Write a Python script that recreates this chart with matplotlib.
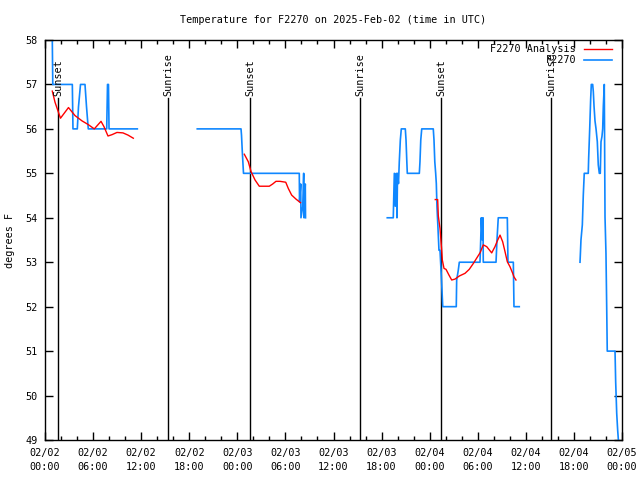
import matplotlib
matplotlib.use("Agg")
import matplotlib.pyplot as plt
import numpy as np

plt.rcParams['font.family'] = ['DejaVu Sans Mono']
fs = 7.3

# hours since 2025-02-02 00:00 UTC, nan = gap in data
obs_hours = [0.91, 0.94, 0.97, 3.41, 3.49, 4.03, 4.18, 4.43, 4.99, 5.18, 5.40, 7.70, 7.80, 7.92, 7.99, 11.52,
             np.nan,
             19.00, 24.46, 24.52, 24.62, 24.71, 24.77, 31.73, 31.76, 31.91, 31.94, 32.16, 32.28, 32.32, 32.48, 32.51,
             np.nan,
             42.71, 43.46, 43.49, 43.59, 43.71, 43.84, 43.92, 43.99, 44.11, 44.21, 44.34, 44.46, 44.96, 45.05,
             45.15, 45.21, 46.71, 46.79, 46.89, 47.01, 48.45, 48.54, 48.64, 48.75, 48.83, 48.91, 49.04, 49.16,
             49.29, 49.48, 49.63, 51.32, 51.37, 51.57, 51.70, 54.28, 54.37, 54.44, 54.57, 54.65, 54.69, 56.28,
             56.40, 56.56, 57.69, 57.77, 58.44, 58.52, 59.18,
             np.nan,
             66.76, 66.80, 66.88, 67.05, 67.17, 67.29, 67.79, 67.84, 67.97, 68.09, 68.17, 68.34, 68.42, 68.51,
             68.63, 68.76, 68.92, 69.04, 69.17, 69.29, 69.38, 69.50, 69.59, 69.67, 69.79, 69.88, 70.00, 70.09,
             70.16, 71.13, 71.21, 71.34, 71.46, 71.59, 71.87]
obs_temp = [58.0, 57.5, 57.0, 57.0, 56.0, 56.0, 56.5, 57.0, 57.0, 56.5, 56.0, 56.0, 57.0, 57.0, 56.0, 56.0,
            np.nan,
            56.0, 56.0, 55.86, 55.49, 55.19, 55.0, 55.0, 54.36, 54.76, 54.0, 54.25, 55.0, 54.0, 54.76, 54.0,
            np.nan,
            54.0, 54.0, 54.26, 55.0, 54.26, 55.0, 54.0, 55.0, 54.77, 55.26, 55.75, 56.0, 56.0, 55.75,
            55.26, 55.0, 55.0, 55.26, 55.75, 56.0, 56.0, 55.75, 55.26, 55.0, 54.77, 54.25, 53.76, 53.27,
            53.27, 52.6, 52.0, 52.0, 52.6, 52.82, 53.0, 53.0, 53.5, 54.0, 53.5, 54.0, 53.0, 53.0,
            53.5, 54.0, 54.0, 53.0, 53.0, 52.0, 52.0,
            np.nan,
            53.0, 53.16, 53.5, 53.84, 54.51, 55.0, 55.0, 55.34, 56.0, 56.67, 57.0, 57.0, 56.84, 56.51,
            56.18, 56.0, 55.71, 55.19, 55.0, 55.0, 55.71, 55.83, 56.0, 56.51, 57.0, 54.02, 53.2, 52.0,
            51.0, 51.0, 50.31, 49.6, 49.22, 48.9, 48.8]

ana_hours = [0.91, 1.25, 1.93, 2.93, 3.74, 4.62, 5.37, 6.15, 6.99, 7.36, 7.86, 8.36, 8.98, 9.73, 10.36, 11.02,
             np.nan,
             24.87, 25.37, 25.71, 26.21, 26.74, 27.99, 28.41, 28.82, 29.32, 30.04, 30.36, 30.78, 31.32, 31.88,
             np.nan,
             48.70, 49.00, 49.08, 49.29, 49.50, 49.58, 49.79, 50.04, 50.41, 50.75, 51.16, 51.70, 52.41, 52.94,
             53.44, 53.86, 54.28, 54.69, 55.12, 55.74, 56.15, 56.44, 56.78, 57.11, 57.40, 57.69, 58.02, 58.36,
             58.52, 58.77]
ana_temp = [56.85, 56.6, 56.24, 56.48, 56.3, 56.18, 56.1, 56.0, 56.17, 56.05, 55.84, 55.87, 55.92, 55.91, 55.86, 55.79,
            np.nan,
            55.43, 55.26, 55.04, 54.85, 54.71, 54.71, 54.76, 54.82, 54.82, 54.8, 54.66, 54.51, 54.42, 54.34,
            np.nan,
            54.41, 54.41, 54.04, 53.76, 53.27, 53.05, 52.86, 52.84, 52.71, 52.6, 52.62, 52.69, 52.75, 52.84,
            52.97, 53.09, 53.21, 53.39, 53.35, 53.21, 53.35, 53.48, 53.61, 53.46, 53.24, 53.01, 52.9, 52.75,
            52.67, 52.6]

sun_hours = [1.65, 15.36, 25.62, 39.32, 49.47, 63.2]
sun_labels = ["Sunset", "Sunrise", "Sunset", "Sunrise", "Sunset", "Sunrise"]

tick_hours = list(range(0, 73, 6))
tick_labels = ["02/02\n00:00", "02/02\n06:00", "02/02\n12:00", "02/02\n18:00",
               "02/03\n00:00", "02/03\n06:00", "02/03\n12:00", "02/03\n18:00",
               "02/04\n00:00", "02/04\n06:00", "02/04\n12:00", "02/04\n18:00",
               "02/05\n00:00"]

fig = plt.figure(figsize=(6.4, 4.8), dpi=100)
ax = fig.add_axes([45/640, 40/480, 577/640, 400/480])

ax.plot(ana_hours, ana_temp, color="#ff0000", lw=1.0, label="F2270 Analysis", zorder=3)
ax.plot(obs_hours, obs_temp, color="#0f87ff", lw=1.2, label="F2270", zorder=2)

# sunrise / sunset markers
for t, s in zip(sun_hours, sun_labels):
    ax.plot([t, t], [49, 56.70], color="black", lw=1.0, zorder=1)
    ax.text(t, 56.73, s, rotation=90, ha="center", va="bottom", fontsize=fs)

ax.set_xlim(0, 72)
ax.set_ylim(49, 58)
ax.set_xticks(tick_hours)
ax.set_xticklabels(tick_labels, linespacing=1.5)
ax.set_xticks(range(0, 73, 2), minor=True)
ax.set_yticks(range(49, 59))
ax.tick_params(which="both", direction="in", top=True, right=True, labelsize=fs, width=1)
ax.tick_params(which="major", length=6)
ax.tick_params(which="minor", length=3)
ax.tick_params(axis="x", pad=6)
ax.tick_params(axis="y", pad=5)
for sp in ax.spines.values():
    sp.set_linewidth(1.0)

ax.set_title("Temperature for F2270 on 2025-Feb-02 (time in UTC)", fontsize=fs, pad=12)
fig.text(10/640, 0.5, "degrees F", rotation=90, ha="center", va="center", fontsize=fs)

ax.legend(loc="upper right", frameon=False, markerfirst=False, fontsize=fs,
          handlelength=2.8, handletextpad=0.75, labelspacing=0.1,
          borderaxespad=0.2, borderpad=0.2, bbox_to_anchor=(0.99, 1.0))

plt.savefig("out.png", dpi=100)
